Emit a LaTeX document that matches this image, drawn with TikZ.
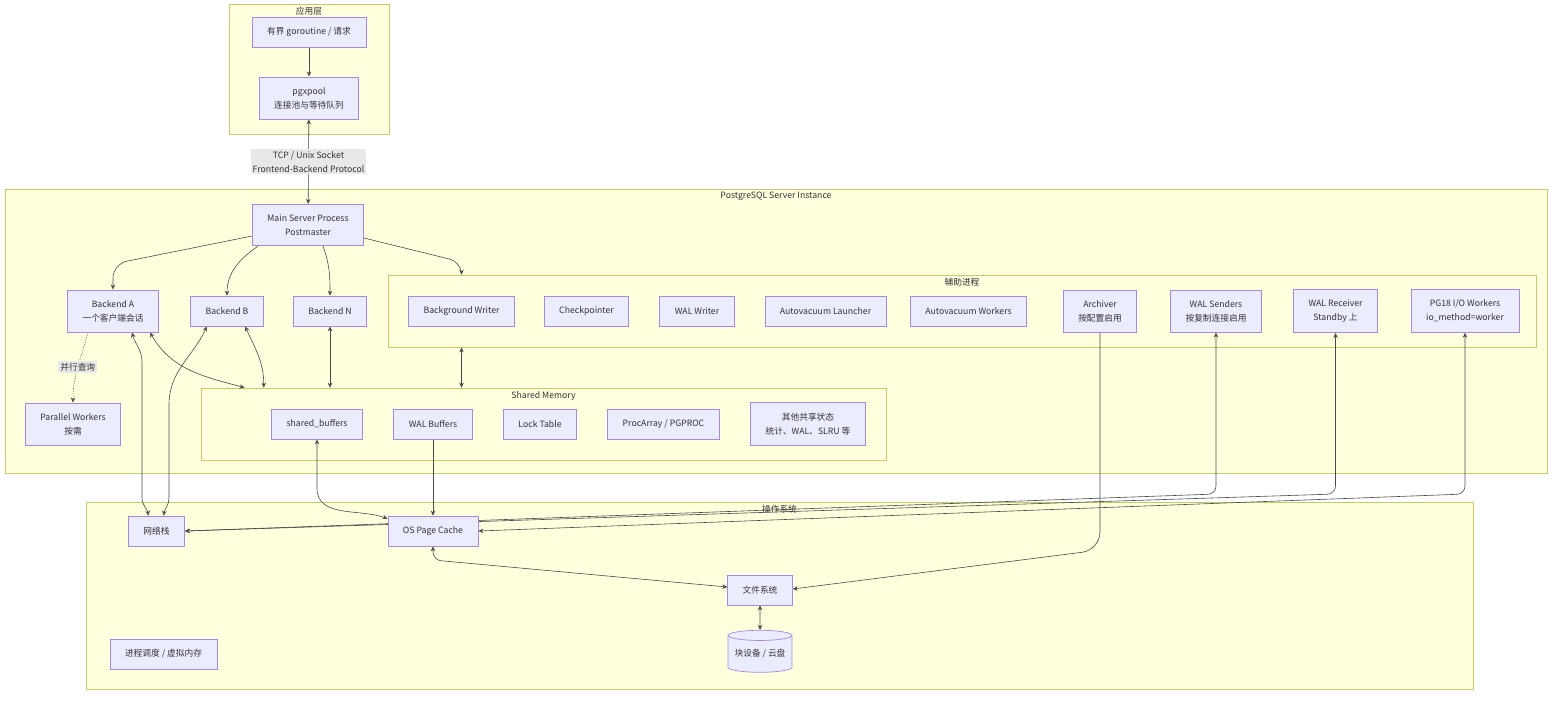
\documentclass[tikz,border=0pt]{standalone}
\usepackage{fontspec}
\setmainfont{Noto Sans CJK SC}
\usetikzlibrary{arrows.meta,positioning,calc,shapes.geometric}

\definecolor{nodefill}{HTML}{ECECFF}
\definecolor{nodeline}{HTML}{A48AE0}
\definecolor{grpfill}{HTML}{FFFFDE}
\definecolor{grpline}{HTML}{C8C870}
\definecolor{wire}{HTML}{4A4A4A}
\definecolor{labelbg}{HTML}{E8E8E8}
\definecolor{ink}{HTML}{333333}

\pgfdeclarelayer{bg}
\pgfdeclarelayer{wires}
\pgfsetlayers{bg,wires,main}

\begin{document}
\begin{tikzpicture}[
  x=1pt, y=-1pt,
  every node/.style={font=\fontsize{8.7}{14}\selectfont, text=ink},
  proc/.style={draw=nodeline, fill=nodefill, line width=0.7pt, align=center,
               minimum height=30pt, inner xsep=15pt, inner ysep=10.3pt},
  store/.style={cylinder, shape border rotate=90, aspect=0.2, draw=nodeline,
                fill=nodefill, line width=0.7pt, minimum width=64pt,
                minimum height=42pt, inner sep=0pt},
  group/.style={draw=grpline, fill=grpfill, line width=0.7pt, inner sep=0pt},
  elabel/.style={fill=labelbg, align=center, inner sep=2pt},
  >={Stealth[length=5pt,width=4.5pt]},
  arr/.style={->, draw=wire, line width=0.6pt},
  biarr/.style={<->, draw=wire, line width=0.6pt}
]
\useasboundingbox (0,0) rectangle (1568,702);

% subgraphs
\begin{pgfonlayer}{bg}
\node[group, minimum width=160pt, minimum height=130pt,
      label={[anchor=north]north:应用层}] (app) at (309,69) {};
\node[group, minimum width=1542pt, minimum height=284pt,
      label={[anchor=north]north:PostgreSQL Server Instance}] (pg) at (776,331) {};
\node[group, minimum width=1148pt, minimum height=72pt,
      label={[anchor=north]north:辅助进程}] (aux) at (962,311) {};
\node[group, minimum width=685pt, minimum height=72pt,
      label={[anchor=north]north:Shared Memory}] (shm) at (543.5,424) {};
\node[group, minimum width=1387pt, minimum height=187pt,
      label={[anchor=north]north:操作系统}] (os) at (779.5,595.5) {};
\end{pgfonlayer}

% application
\node[proc] (gor) at (309,32) {有界 goroutine / 请求};
\node[proc] (pool) at (309,98) {pgxpool\\连接池与等待队列};

% server
\node[proc] (pm) at (308,225) {Main Server Process\\Postmaster};
\node[proc] (ba) at (113,311) {Backend A\\一个客户端会话};
\node[proc] (bb) at (227,311) {Backend B};
\node[proc] (bn) at (330,311) {Backend N};
\node[proc] (pw) at (73,424) {Parallel Workers\\按需};

\node[proc] (bgw) at (461.5,311) {Background Writer};
\node[proc] (ckpt) at (586.5,311) {Checkpointer};
\node[proc] (walw) at (697,311) {WAL Writer};
\node[proc] (avl) at (825.5,311) {Autovacuum Launcher};
\node[proc] (avw) at (968.5,311) {Autovacuum Workers};
\node[proc] (arch) at (1100,311) {Archiver\\按配置启用};
\node[proc] (walsnd) at (1216,311) {WAL Senders\\按复制连接启用};
\node[proc] (walrcv) at (1335.5,311) {WAL Receiver\\Standby 上};
\node[proc] (iow) at (1465,311) {PG18 I/O Workers\\io\_method=worker};

\node[proc] (sb) at (317,424) {shared\_buffers};
\node[proc] (wb) at (433,424) {WAL Buffers};
\node[proc] (lt) at (540,424) {Lock Table};
\node[proc] (pa) at (663.5,424) {ProcArray / PGPROC};
\node[proc] (oth) at (808,424) {其他共享状态\\统计、WAL、SLRU 等};

% operating system
\node[proc] (net) at (156.5,531) {网络栈};
\node[proc] (pc) at (433,531) {OS Page Cache};
\node[proc] (fs) at (760,590) {文件系统};
\node[store] (disk) at (760,654) {块设备 / 云盘};
\node[proc] (sched) at (163.5,654) {进程调度 / 虚拟内存};

\begin{pgfonlayer}{wires}
\draw[arr] (gor) -- (pool);
\draw[biarr] (pool) -- node[elabel] {TCP / Unix Socket\\Frontend-Backend Protocol} (pm);
\draw[arr, rounded corners=14pt] ([yshift=-11pt]pm.west) -- (ba.north |- 0,264) -- (ba.north);
\draw[arr] ([xshift=-50pt]pm.south) to[out=-145,in=90] (bb.north);
\draw[arr] ([xshift=15pt]pm.south) to[out=-70,in=90] (bn.north);
\draw[arr, rounded corners=12pt] ([yshift=-13pt]pm.east) -- (bgw.north |- 0,262) -- (aux.north -| bgw);
\draw[arr, dash pattern=on 1pt off 1.5pt] ([xshift=-25pt]ba.south) to[out=-105,in=90]
  node[elabel, pos=0.5] {并行查询} (pw.north);
\draw[biarr] ([xshift=37pt]ba.south) to[out=-60,in=165] ([xshift=44pt]shm.north west);
\draw[biarr] ([xshift=18pt]bb.south) to[out=-65,in=90] (shm.north -| bb.east);
\draw[biarr] (bn.south) -- (shm.north -| bn.south);
\draw[biarr] (aux.south -| bgw) -- (shm.north -| bgw);
\draw[biarr] ([xshift=19pt]ba.south) to[out=-75,in=90] (142,362) -- (142,498)
  to[out=-90,in=100] ([xshift=-8pt]net.north);
\draw[biarr] ([xshift=-20pt]bb.south) to[out=-115,in=90] (169,405) -- (169,498)
  to[out=-90,in=80] ([xshift=7pt]net.north);
\draw[biarr] (sb.south) -- (sb.south |- 0,488) to[out=-90,in=160] ([yshift=-3pt]pc.north west);
\draw[arr] (wb) -- (pc);
\draw[biarr, rounded corners=8pt] (walsnd.south) -- (walsnd.south |- 0,494) -- (net.east);
\draw[biarr, rounded corners=8pt] (walrcv.south) -- (walrcv.south |- 0,494) -- (net.east);
\draw[biarr, rounded corners=8pt] (iow.south) -- (iow.south |- 0,494) -- (pc.east);
\draw[arr, rounded corners=18pt] (arch.south) -- (arch.south |- 0,550) -- ([yshift=1pt]fs.east);
\draw[biarr, rounded corners=8pt] (pc.south) -- (pc.south |- 0,560) -- ([yshift=3pt]fs.west);
\draw[biarr] (fs) -- (disk);
\end{pgfonlayer}
\end{tikzpicture}
\end{document}
